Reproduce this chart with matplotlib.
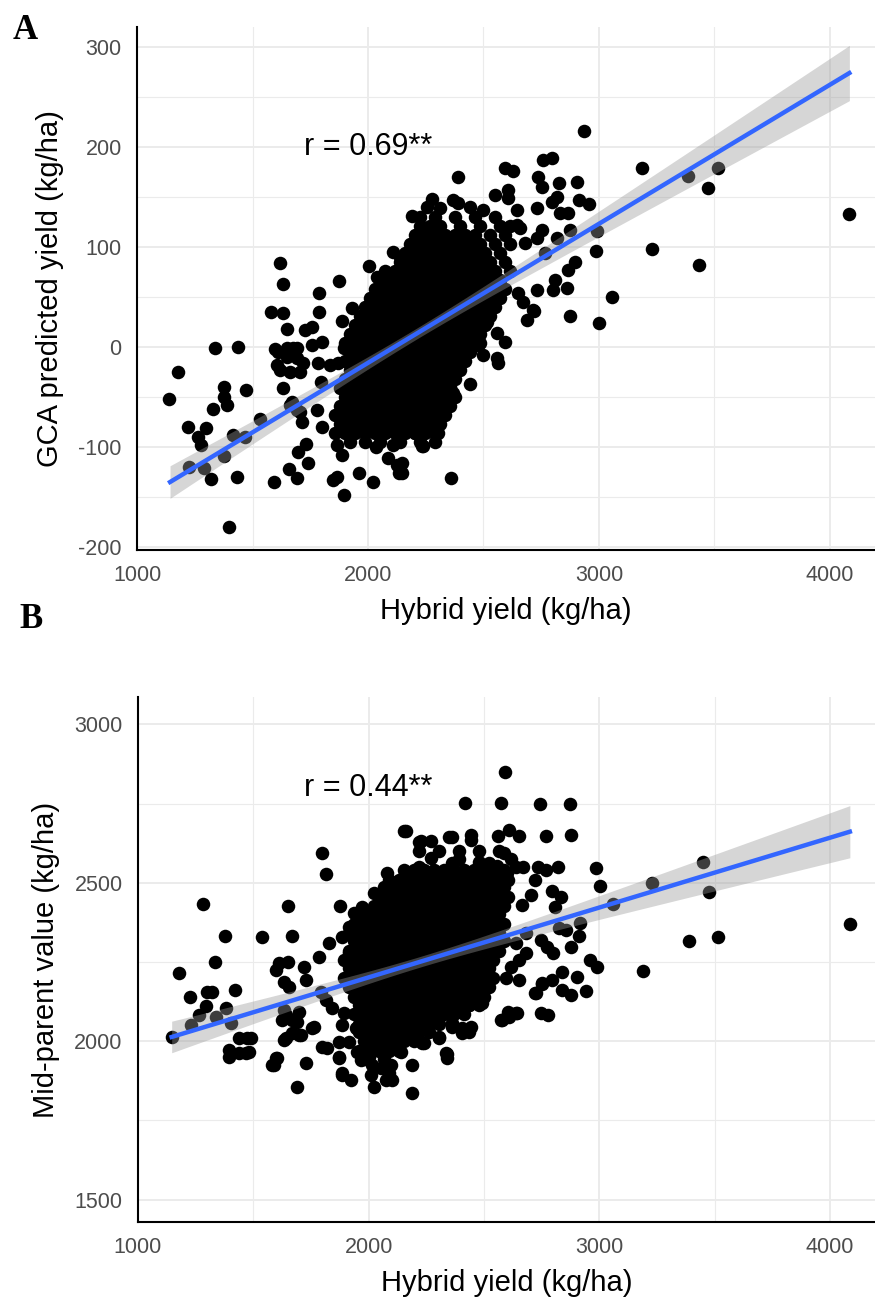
import numpy as np
import matplotlib
matplotlib.use("Agg")
import matplotlib.pyplot as plt
from matplotlib.ticker import MultipleLocator

plt.rcParams['font.family'] = ['Liberation Sans', 'DejaVu Sans']
plt.rcParams['axes.unicode_minus'] = False

# ---- panel A: hybrid yield vs GCA predicted yield (kg/ha) ----
a_hybrid = [2189, 1619, 1631, 1874, 1788, 1580, 1632, 1788, 1931, 2004, 1887, 1649, 1727, 1758,
            2108, 2139, 2108, 2039, 2052, 2255, 2255, 2009, 2009, 1952, 1978, 1909, 1338, 1437,
            1597, 1649, 1693,
            1177, 1139, 1377, 1377, 1390, 1329, 1472, 1221, 1299, 1264, 1277, 1416, 1468, 1532,
            1377, 1225, 1290, 1320, 1433, 1398, 1593, 1658, 1693, 1697, 1732, 1740, 1662, 1693,
            1714, 1866, 1887, 1848, 1866, 1896, 1961, 2022, 2087, 2126, 2134, 2238, 2108, 2035,
            1779, 1801, 1797, 1784, 1835, 1870, 1758, 1801, 1896, 1610, 1649, 1693, 1719, 1619,
            1662, 1706, 1632, 1606, 1675, 1671, 1706,
            2935, 3186, 3385, 3229, 3433, 3056, 3000, 2874, 2991, 2987, 2957, 2913, 2905, 2797,
            2758, 2736, 2753, 2827, 2818, 2797, 2866, 2831, 2732, 2593, 2628, 2606, 2606, 2550,
            2390, 2277, 2368, 2390, 2312, 2442, 2498, 2645, 2645, 2658, 2753, 2732, 2818, 2874,
            2680, 2766, 2896, 2866, 2810, 2861, 2801, 2732, 2649, 2714, 2671, 2688, 2593, 2558,
            2515, 2476,
            2719, 2563, 2558, 2498, 2442, 2368, 2320, 2273, 2303, 2234, 2203, 2359, 2147, 2147,
            2485, 2450, 2398, 2385, 2342, 2355,
            3515, 3472, 4082]
a_gca = [131, 84, 63, 66, 54, 35, 34, 35, 39, 81, 26, 18, 17, 20,
         95, 90, 65, 70, 47, 140, 119, 34, 14, 12, 4, 0, -1, 0,
         -2, -1, -1,
         -25, -52, -40, -50, -58, -62, -43, -80, -81, -90, -98, -88, -90, -72,
         -109, -120, -121, -132, -130, -180, -135, -122, -131, -105, -97, -116, -58, -63,
         -75, -98, -108, -133, -130, -148, -126, -135, -111, -118, -126, -99, -98, -100,
         -63, -80, -35, -16, -18, -16, 2, 5, -1, -5, -10, -11, -16, -23,
         -25, -25, -41, -18, -1, -55, -65,
         216, 179, 171, 98, 82, 50, 24, 31, 116, 96, 143, 147, 165, 189,
         187, 170, 160, 164, 150, 145, 134, 134, 139, 179, 176, 157, 149, 152,
         170, 148, 147, 144, 139, 140, 137, 137, 122, 119, 117, 109, 109, 117,
         104, 94, 85, 77, 67, 59, 57, 57, 54, 37, 45, 27, 5, 14,
         25, 2,
         36, -16, -11, -8, -37, -46, -55, -73, -86, -99, -86, -131, -126, -116,
         4, 10, -8, -20, -33, -40,
         179, 159, 133]

# dense centre of panel A, one list of hybrid yields per GCA row
a_core_gca = [130, 121, 112, 103, 94, 85, 76, 67, 58, 49, 40, 31, 22, 13, 4,
              -5, -14, -23, -32, -41, -50, -59, -68, -77, -86, -95]
a_core_hybrid = [
    [2225, 2290, 2377, 2463, 2550],
    [2225, 2268, 2312, 2398, 2485, 2571, 2615],
    [2203, 2247, 2290, 2333, 2377, 2420, 2463, 2528, 2593],
    [2182, 2225, 2268, 2312, 2355, 2398, 2442, 2485, 2550, 2615],
    [2160, 2203, 2247, 2290, 2333, 2377, 2420, 2463, 2506, 2571],
    [2139, 2182, 2225, 2268, 2312, 2355, 2398, 2442, 2485, 2528, 2593],
    [2074, 2117, 2160, 2203, 2247, 2290, 2333, 2377, 2420, 2463, 2506, 2550, 2615],
    [2052, 2095, 2139, 2182, 2225, 2268, 2312, 2355, 2398, 2442, 2485, 2528, 2571],
    [2030, 2074, 2117, 2160, 2203, 2247, 2290, 2333, 2377, 2420, 2463, 2506, 2550, 2593],
    [2009, 2052, 2095, 2139, 2182, 2225, 2268, 2312, 2355, 2398, 2442, 2485, 2528, 2571],
    [1987, 2030, 2074, 2117, 2160, 2203, 2247, 2290, 2333, 2377, 2420, 2463, 2506, 2550],
    [1965, 2009, 2052, 2095, 2139, 2182, 2225, 2268, 2312, 2355, 2398, 2442, 2485, 2528],
    [1944, 1987, 2030, 2074, 2117, 2160, 2203, 2247, 2290, 2333, 2377, 2420, 2463, 2506],
    [1922, 1965, 2009, 2052, 2095, 2139, 2182, 2225, 2268, 2312, 2355, 2398, 2442, 2485],
    [1900, 1944, 1987, 2030, 2074, 2117, 2160, 2203, 2247, 2290, 2333, 2377, 2420, 2463],
    [1922, 1965, 2009, 2052, 2095, 2139, 2182, 2225, 2268, 2312, 2355, 2398, 2442],
    [1900, 1944, 1987, 2030, 2074, 2117, 2160, 2203, 2247, 2290, 2333, 2377, 2420],
    [1922, 1965, 2009, 2052, 2095, 2139, 2182, 2225, 2268, 2312, 2355, 2398],
    [1900, 1944, 1987, 2030, 2074, 2117, 2160, 2203, 2247, 2290, 2333, 2377],
    [1878, 1922, 1965, 2009, 2052, 2095, 2139, 2182, 2225, 2268, 2312, 2355],
    [1900, 1944, 1987, 2030, 2074, 2117, 2160, 2203, 2247, 2290, 2333, 2377],
    [1878, 1922, 1965, 2009, 2052, 2095, 2139, 2182, 2225, 2268, 2312, 2355],
    [1857, 1900, 1944, 1987, 2030, 2074, 2117, 2160, 2203, 2247, 2290, 2333],
    [1878, 1922, 1965, 2009, 2052, 2095, 2139, 2182, 2225, 2268, 2312],
    [1857, 1900, 1944, 1987, 2030, 2074, 2117, 2160, 2203, 2247, 2290],
    [1922, 1987, 2052, 2139, 2225, 2290],
]

# fitted line end points (lm fit over the full data set)
a_fit_hybrid = [1143, 4084]
a_fit_gca = [-135, 274]

# ---- panel B: hybrid yield vs mid-parent value (kg/ha) ----
b_hybrid = [1147, 1178, 1281, 1225, 1299, 1320, 1295, 1264, 1229, 1333, 1377, 1420, 1381, 1338,
            1403, 1437, 1472, 1394, 1394, 1437, 1468, 1537, 1650, 1667, 1797, 1814, 1875, 1611,
            1650, 1598, 1632, 1719, 1727, 1632, 1667, 1623, 1641, 1706, 1598, 1580, 1727, 1753,
            1784, 1827, 1840, 1797, 1870, 1883, 1935, 1970, 2022, 2078, 2152, 2217, 2156, 2217,
            1913, 1883, 1913, 2000, 2087,
            1688, 1589, 1602, 1481, 1490, 1632, 1667, 1697, 1762, 1688, 1641, 1697, 1818, 1870,
            1913, 1870, 1883, 1922, 1948, 1966, 2013, 2009, 2022, 2052, 2074, 2100, 2096, 2139,
            2187, 2187, 2230, 2303, 2338, 2338, 2433, 2403, 2360, 2576, 2637, 2745, 2723, 2750,
            2606, 2490, 2433, 1892, 1883, 1944, 1814, 1792, 1654,
            2591, 2416, 2572, 2741, 2871, 2160, 2225, 2269, 2347, 2360, 2442, 2442, 2559, 2607,
            2650, 2767, 2875, 2987, 3005, 2819, 2736, 2767, 2671, 2637, 2585, 2619, 2598, 2520,
            2555, 2477, 2468, 2390, 2360, 2334, 2269, 2217, 2160, 2723, 2793, 2832, 2806, 2702,
            2663, 2918, 2910, 2875, 2823, 2857, 2745, 2771, 2797, 3230, 3061, 3390, 3191, 2961,
            2992, 2836, 2905, 2944, 2879, 2836, 2793, 2750, 2727, 2779, 2650, 2594, 2607, 2572,
            2641, 2334, 2442, 2403, 2360, 2303, 2238, 2680, 2650, 2619, 2680, 2637,
            3449, 3477, 3516, 4087]
b_midparent = [2013, 2215, 2432, 2139, 2155, 2155, 2110, 2082, 2050, 2249, 2331, 2161, 2104, 2076,
               2057, 2009, 2009, 1972, 1950, 1962, 1962, 2328, 2426, 2331, 2593, 2527, 2426, 2246,
               2249, 2224, 2186, 2234, 2193, 2098, 2066, 2066, 2009, 2019, 1946, 1924, 1931, 2041,
               2265, 2309, 2104, 1981, 1950, 1899, 2404, 2423, 2467, 2530, 2663, 2628, 2530, 2540,
               2360, 2328, 2278, 1949, 1899,
               1855, 1924, 1946, 1965, 2009, 2003, 2025, 2019, 2044, 2060, 2082, 2092, 1978, 1997,
               1997, 1946, 1893, 1877, 1965, 1940, 1924, 1893, 1855, 1915, 1877, 1877, 1924, 1965,
               1924, 1836, 1994, 2009, 1959, 1946, 2028, 2041, 2057, 2066, 2088, 2088, 2152, 2183,
               2092, 2120, 2114, 2088, 2050, 2041, 2129, 2155, 2170,
               2849, 2751, 2751, 2748, 2748, 2663, 2631, 2631, 2644, 2644, 2650, 2635, 2647, 2666,
               2647, 2647, 2650, 2546, 2489, 2549, 2549, 2540, 2549, 2549, 2593, 2574, 2530, 2562,
               2552, 2565, 2530, 2574, 2562, 2530, 2577, 2549, 2530, 2508, 2474, 2455, 2423, 2461,
               2429, 2373, 2331, 2297, 2357, 2350, 2319, 2297, 2278, 2499, 2432, 2316, 2221, 2256,
               2234, 2218, 2202, 2158, 2145, 2161, 2193, 2180, 2152, 2082, 2193, 2199, 2076, 2066,
               2088, 1962, 2044, 2025, 2044, 2013, 1994, 2278, 2256, 2234, 2341, 2309,
               2565, 2470, 2328, 2369]

# dense centre of panel B, one list of hybrid yields per mid-parent row
b_core_mid = [2600, 2540, 2510, 2485, 2455, 2425, 2400, 2370, 2340, 2315, 2285, 2255,
              2230, 2200, 2170, 2140, 2115, 2085, 2055, 2030, 2000, 1970, 1945]
b_core_hybrid = [
    [2217, 2303, 2390, 2477, 2563],
    [2152, 2195, 2238, 2282, 2325, 2368, 2412, 2455, 2498, 2541, 2585],
    [2087, 2130, 2173, 2217, 2260, 2303, 2347, 2390, 2433, 2477, 2520, 2563, 2606],
    [2065, 2108, 2152, 2195, 2238, 2282, 2325, 2368, 2412, 2455, 2498, 2541, 2585],
    [2044, 2087, 2130, 2173, 2217, 2260, 2303, 2347, 2390, 2433, 2477, 2520, 2563, 2606],
    [2022, 2065, 2108, 2152, 2195, 2238, 2282, 2325, 2368, 2412, 2455, 2498, 2541, 2585],
    [1957, 2000, 2044, 2087, 2130, 2173, 2217, 2260, 2303, 2347, 2390, 2433, 2477, 2520, 2563],
    [1935, 1979, 2022, 2065, 2108, 2152, 2195, 2238, 2282, 2325, 2368, 2412, 2455, 2498, 2541, 2585],
    [1914, 1957, 2000, 2044, 2087, 2130, 2173, 2217, 2260, 2303, 2347, 2390, 2433, 2477, 2520, 2563],
    [1935, 1979, 2022, 2065, 2108, 2152, 2195, 2238, 2282, 2325, 2368, 2412, 2455, 2498, 2541, 2585],
    [1914, 1957, 2000, 2044, 2087, 2130, 2173, 2217, 2260, 2303, 2347, 2390, 2433, 2477, 2520, 2563],
    [1892, 1935, 1979, 2022, 2065, 2108, 2152, 2195, 2238, 2282, 2325, 2368, 2412, 2455, 2498, 2541],
    [1914, 1957, 2000, 2044, 2087, 2130, 2173, 2217, 2260, 2303, 2347, 2390, 2433, 2477, 2520],
    [1892, 1935, 1979, 2022, 2065, 2108, 2152, 2195, 2238, 2282, 2325, 2368, 2412, 2455, 2498, 2541],
    [1914, 1957, 2000, 2044, 2087, 2130, 2173, 2217, 2260, 2303, 2347, 2390, 2433, 2477, 2520],
    [1935, 1979, 2022, 2065, 2108, 2152, 2195, 2238, 2282, 2325, 2368, 2412, 2455, 2498],
    [1957, 2000, 2044, 2087, 2130, 2173, 2217, 2260, 2303, 2347, 2390, 2433, 2477],
    [1935, 1979, 2022, 2065, 2108, 2152, 2195, 2238, 2282, 2325, 2368, 2412],
    [1957, 2000, 2044, 2087, 2130, 2173, 2217, 2260, 2303],
    [1957, 2000, 2044, 2087, 2130, 2173, 2217, 2260],
    [1979, 2022, 2065, 2108, 2152, 2195],
    [1957, 2000, 2044, 2087, 2130],
    [1979, 2065],
]

b_fit_hybrid = [1146, 4086]
b_fit_mid = [2013, 2661]

a_label = "r = 0.69**"
b_label = "r = 0.44**"


def stack(xs, ys, core_ys, core_xs):
    x = list(xs)
    y = list(ys)
    for yy, row in zip(core_ys, core_xs):
        x += row
        y += [yy] * len(row)
    return np.array(x, float), np.array(y, float)


def scatter_fit(ax, x, y, fit_x, fit_y):
    ax.scatter(x, y, s=95, color="black", linewidths=0, zorder=3)
    # straight fit line through its two end points, 95% band from the residuals
    b = (fit_y[1] - fit_y[0]) / (fit_x[1] - fit_x[0])
    a = fit_y[0] - b * fit_x[0]
    n = len(x)
    resid = y - (a + b * x)
    s = np.sqrt(np.sum(resid ** 2) / (n - 2))
    xm = x.mean()
    sxx = np.sum((x - xm) ** 2)
    xs = np.linspace(fit_x[0], fit_x[1], 200)
    fit = a + b * xs
    se = s * np.sqrt(1.0 / n + (xs - xm) ** 2 / sxx)
    ax.fill_between(xs, fit - 1.963 * se, fit + 1.963 * se, color="#999999",
                    alpha=0.4, linewidth=0, zorder=4)
    ax.plot(fit_x, fit_y, color="#3366FF", lw=3.2, zorder=5)


def style(ax, major_y, minor_y):
    ax.set_xlim(1000, 4195)
    ax.xaxis.set_major_locator(MultipleLocator(1000))
    ax.xaxis.set_minor_locator(MultipleLocator(500))
    ax.yaxis.set_major_locator(MultipleLocator(major_y))
    ax.yaxis.set_minor_locator(MultipleLocator(minor_y))
    ax.grid(which="major", color="#ebebeb", lw=1.4, zorder=0)
    ax.grid(which="minor", color="#ebebeb", lw=0.8, zorder=0)
    ax.set_axisbelow(True)
    for side in ["top", "right"]:
        ax.spines[side].set_visible(False)
    for side in ["left", "bottom"]:
        ax.spines[side].set_linewidth(1.5)
        ax.spines[side].set_color("black")
        ax.spines[side].set_zorder(6)
    ax.tick_params(which="both", length=0, labelsize=15.5, labelcolor="#4d4d4d", pad=11)
    ax.set_xlabel("Hybrid yield (kg/ha)", fontsize=21, labelpad=8)


fig = plt.figure(figsize=(8.75, 13), dpi=100)

ax1 = fig.add_axes([0.1566, 0.5769, 0.8434, 0.4023])
xa, ya = stack(a_hybrid, a_gca, a_core_gca, a_core_hybrid)
scatter_fit(ax1, xa, ya, a_fit_hybrid, a_fit_gca)
style(ax1, 100, 50)
ax1.set_ylim(-203, 320)
ax1.set_ylabel("GCA predicted yield (kg/ha)", fontsize=21, labelpad=10)
ax1.text(2000, 200, a_label, fontsize=22, ha="center", va="center")

ax2 = fig.add_axes([0.1577, 0.06, 0.8423, 0.4038])
xb, yb = stack(b_hybrid, b_midparent, b_core_mid, b_core_hybrid)
scatter_fit(ax2, xb, yb, b_fit_hybrid, b_fit_mid)
style(ax2, 500, 250)
ax2.set_ylim(1429, 3086)
ax2.set_ylabel("Mid-parent value (kg/ha)", fontsize=21, labelpad=10)
ax2.text(2000, 2800, b_label, fontsize=22, ha="center", va="center")

fig.text(0.014, 0.9895, "A", family="Liberation Serif", weight="bold", fontsize=25,
         ha="left", va="top")
fig.text(0.022, 0.5365, "B", family="Liberation Serif", weight="bold", fontsize=25,
         ha="left", va="top")

fig.savefig("out.png", dpi=100, facecolor="white")
